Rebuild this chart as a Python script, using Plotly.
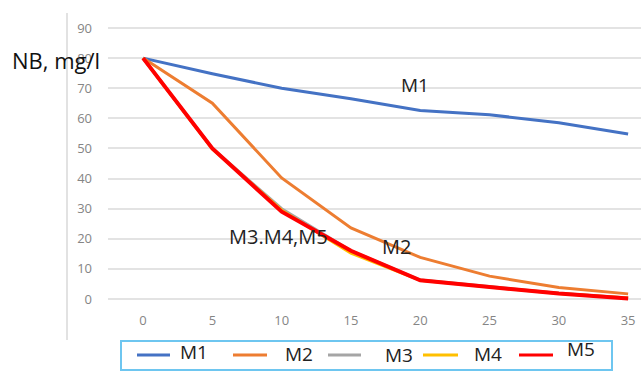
import plotly.graph_objects as go

time_min = [0, 5, 10, 15, 20, 25, 30, 35]
m1 = [80, 74.8, 70, 66.5, 62.6, 61.2, 58.5, 54.8]
m2 = [80, 65, 40.2, 23.6, 13.8, 7.6, 3.8, 1.7]
m3 = [80, 50, 30, 16, 6.3, 4.2, 1.9, 0.3]
m4 = [80, 49.8, 29.5, 15.2, 6.2, 4.1, 1.8, 0.3]
m5 = [80, 50, 29, 16, 6.2, 4.0, 1.8, 0.2]
y_ticks = [0, 10, 20, 30, 40, 50, 60, 70, 80, 90]

series = [
    ("M1", m1, "#4472C4", 3),
    ("M2", m2, "#ED7D31", 3),
    ("M3", m3, "#A5A5A5", 3),
    ("M4", m4, "#FFC000", 3),
    ("M5", m5, "#FF0000", 4),
]

W, H = 641, 374
ML, MR, MT, MB = 108, 0, 26, 73
PW, PH = W - ML - MR, H - MT - MB

def px(xp):
    return (xp - ML) / PW

def py(yp):
    return (H - MB - yp) / PH

fig = go.Figure()
for name, vals, color, w in series:
    fig.add_trace(go.Scatter(x=time_min, y=vals, mode="lines", name=name,
                             line=dict(color=color, width=w), showlegend=False))

font_family = "Open Sans, Noto Sans, sans-serif"

fig.update_layout(
    width=W, height=H,
    margin=dict(l=ML, r=MR, t=MT, b=MB, autoexpand=False),
    paper_bgcolor="white", plot_bgcolor="white",
    font=dict(family=font_family, color="#222222"),
    showlegend=False,
    xaxis=dict(range=[-2.53, 35.93], tickvals=time_min, ticktext=[str(t) for t in time_min],
               showgrid=False, zeroline=False, showline=False, automargin=False,
               tickfont=dict(size=13, color="#858585"), ticklabelstandoff=10),
    yaxis=dict(range=[-0.664, 90.664], tickvals=y_ticks, showgrid=True, gridcolor="#E3E3E3",
               gridwidth=1.5, zeroline=False, showline=False, automargin=False,
               tickfont=dict(size=13, color="#858585"), ticklabelstandoff=15),
)

# left vertical border line
fig.add_shape(type="line", xref="paper", yref="paper", x0=px(67), x1=px(67),
              y0=py(340), y1=py(13), line=dict(color="#D9D9D9", width=1.5))

# manual legend
fig.add_shape(type="rect", xref="paper", yref="paper", x0=px(121), x1=px(612),
              y0=py(370), y1=py(341), line=dict(color="#6EC6F0", width=2),
              fillcolor="white")
legend_pos = [(137, 170, 178, 352), (233, 267, 283, 354), (328, 361, 383, 355),
              (423, 458, 472, 354), (519, 553, 565, 349)]
for (name, vals, color, w), (lx0, lx1, tx, ty) in zip(series, legend_pos):
    fig.add_shape(type="line", xref="paper", yref="paper", x0=px(lx0), x1=px(lx1),
                  y0=py(355), y1=py(355), line=dict(color=color, width=3))
    fig.add_annotation(text=name, xref="paper", yref="paper", x=px(tx), y=py(ty),
                       xanchor="left", yanchor="middle", showarrow=False,
                       font=dict(size=19, color="#222222"))

fig.add_annotation(text="NB, mg/l", xref="paper", yref="paper", x=px(10), y=py(60),
                   xanchor="left", yanchor="middle",
                   showarrow=False, font=dict(size=22, color="#111111"))
fig.add_annotation(text="M1", x=19.6, y=71.1, showarrow=False,
                   font=dict(size=19, color="#222222"))
fig.add_annotation(text="M3.M4,M5", x=9.8, y=20.6, showarrow=False,
                   font=dict(size=20, color="#222222"))
fig.add_annotation(text="M2", x=18.3, y=17.3, showarrow=False,
                   font=dict(size=20, color="#222222"))

fig.write_html("out.html", config={"displayModeBar": False},
               post_script="document.body.style.margin='0';")
